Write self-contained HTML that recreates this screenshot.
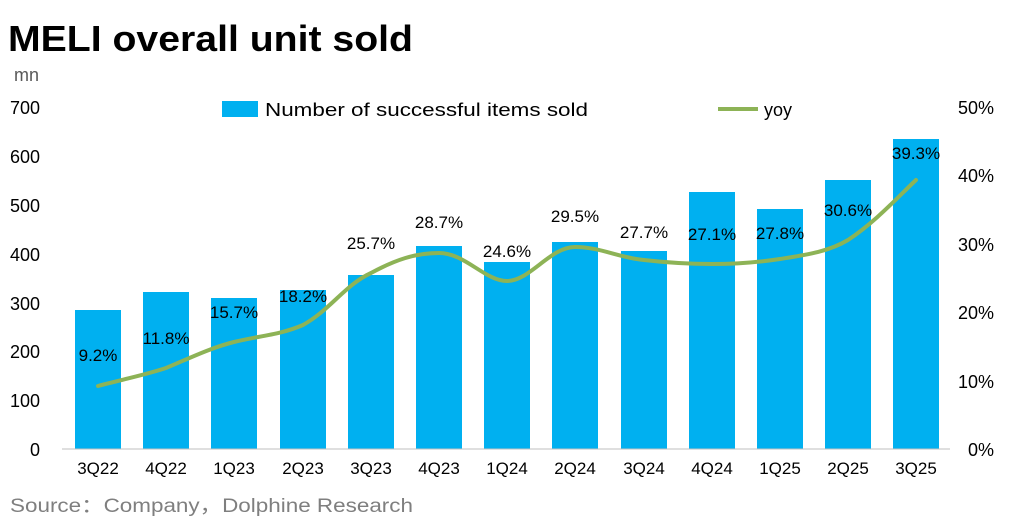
<!DOCTYPE html>
<html><head><meta charset="utf-8"><style>
body{margin:0;background:#fff;}
svg{display:block;font-family:"Liberation Sans","Noto Sans CJK SC",sans-serif;}
</style></head><body>
<svg width="1013" height="520" viewBox="0 0 1013 520" xmlns="http://www.w3.org/2000/svg">
<rect width="1013" height="520" fill="#fff"/>
<text x="8" y="51" font-size="36" font-weight="bold" fill="#000" textLength="405" lengthAdjust="spacingAndGlyphs">MELI overall unit sold</text>
<text x="14" y="81" font-size="18" fill="#595959">mn</text>
<g font-size="18" fill="#000" text-anchor="end">
<text x="40" y="114">700</text><text x="40" y="163">600</text><text x="40" y="212">500</text>
<text x="40" y="261">400</text><text x="40" y="310">300</text><text x="40" y="358">200</text>
<text x="40" y="407">100</text><text x="40" y="456">0</text>
</g>
<g font-size="18" fill="#000">
<text x="958" y="114">50%</text><text x="958" y="182">40%</text><text x="958" y="251">30%</text>
<text x="958" y="319">20%</text><text x="958" y="388">10%</text><text x="968" y="456">0%</text>
</g>
<g fill="#00b0f0">
<rect x="75" y="310" width="46" height="139"/>
<rect x="143" y="292" width="46" height="157"/>
<rect x="211" y="298" width="46" height="151"/>
<rect x="280" y="290" width="46" height="159"/>
<rect x="348" y="275" width="46" height="174"/>
<rect x="416" y="246" width="46" height="203"/>
<rect x="484" y="262" width="46" height="187"/>
<rect x="552" y="242" width="46" height="207"/>
<rect x="621" y="251" width="46" height="198"/>
<rect x="689" y="192" width="46" height="257"/>
<rect x="757" y="209" width="46" height="240"/>
<rect x="825" y="180" width="46" height="269"/>
<rect x="893" y="139" width="46" height="310"/>
</g>
<line x1="62" y1="449" x2="950" y2="449" stroke="#bfbfbf" stroke-width="1"/>
<g font-size="17" fill="#000" text-anchor="middle">
<text x="98" y="474">3Q22</text><text x="166" y="474">4Q22</text><text x="234" y="474">1Q23</text>
<text x="303" y="474">2Q23</text><text x="371" y="474">3Q23</text><text x="439" y="474">4Q23</text>
<text x="507" y="474">1Q24</text><text x="575" y="474">2Q24</text><text x="644" y="474">3Q24</text>
<text x="712" y="474">4Q24</text><text x="780" y="474">1Q25</text><text x="848" y="474">2Q25</text>
<text x="916" y="474">3Q25</text>
</g>
<path d="M98,386 C120,380 145,375 166,368 C190,358 210,348 234,342 C258,336 280,335 303,325 C330,310 345,285 371,273 C395,260 415,253 439,253 C465,253 485,281 507,281 C530,281 550,247 575,247 C600,247 620,258 644,260 C670,263 690,264 712,264 C740,264 760,262 780,259 C805,255 828,252 848,240 C875,222 895,200 916,180" fill="none" stroke="#8db356" stroke-width="4" stroke-linecap="round"/>
<g font-size="17" fill="#000" text-anchor="middle">
<text x="98" y="361">9.2%</text><text x="166" y="344">11.8%</text><text x="234" y="318">15.7%</text>
<text x="303" y="302">18.2%</text><text x="371" y="249">25.7%</text><text x="439" y="228">28.7%</text>
<text x="507" y="257">24.6%</text><text x="575" y="222">29.5%</text><text x="644" y="238">27.7%</text>
<text x="712" y="240">27.1%</text><text x="780" y="239">27.8%</text><text x="848" y="216">30.6%</text>
<text x="916" y="159">39.3%</text>
</g>
<rect x="222" y="101" width="36" height="16" fill="#00b0f0"/>
<text x="265" y="116" font-size="18" fill="#000" textLength="323" lengthAdjust="spacingAndGlyphs">Number of successful items sold</text>
<line x1="718" y1="109" x2="758" y2="109" stroke="#8db356" stroke-width="4"/>
<text x="764" y="116" font-size="18" fill="#000">yoy</text>
<text x="10" y="512" font-size="19" fill="#7f7f7f" textLength="403" lengthAdjust="spacingAndGlyphs">Source：Company，Dolphine Research</text>
</svg>
</body></html>
